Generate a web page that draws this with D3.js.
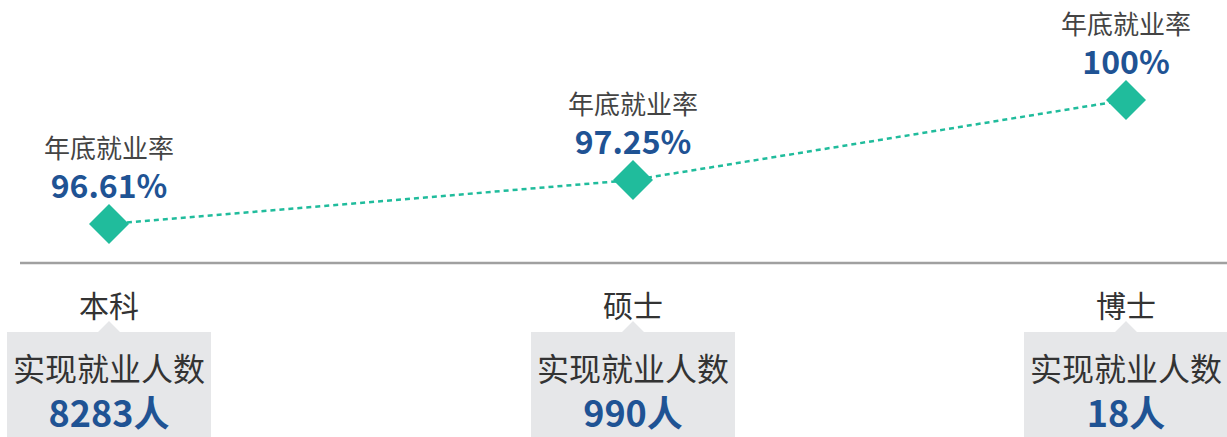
<!DOCTYPE html>
<html>
<head>
<meta charset="utf-8">
<script src="https://cdn.jsdelivr.net/npm/d3@7"></script>
<style>
  body { margin: 0; background: #fff; }
  svg { display: block; font-family: "Noto Sans CJK SC", "Noto Sans", sans-serif; }
</style>
</head>
<body>
<svg width="1227" height="437"></svg>
<script>
const categories = ["本科", "硕士", "博士"];
const rates = [96.61, 97.25, 100];
const employed = [8283, 990, 18];
const rateLabel = "年底就业率";
const countLabel = "实现就业人数";

const svg = d3.select("svg");
const width = 1227;
const height = 437;

// the source chart places the three groups at uneven spots
const x = d3.scaleOrdinal()
  .domain(categories)
  .range([109, 633, 1126]);

// and spaces the points unevenly too, so a piecewise scale
const y = d3.scaleLinear()
  .domain(rates)
  .range([224, 180, 100]);

const data = categories.map((c, i) => ({ cat: c, rate: rates[i], count: employed[i] }));

// baseline
svg.append("line")
  .attr("x1", 20).attr("x2", width)
  .attr("y1", 263).attr("y2", 263)
  .attr("stroke", "#a0a0a0")
  .attr("stroke-width", 2.5);

// dashed line
const line = d3.line()
  .x(d => x(d.cat))
  .y(d => y(d.rate));

svg.append("path")
  .datum(data)
  .attr("d", line)
  .attr("fill", "none")
  .attr("stroke", "#20bc9c")
  .attr("stroke-width", 2.5)
  .attr("stroke-dasharray", "5,4");

// diamonds
svg.selectAll(".pt")
  .data(data)
  .enter()
  .append("path")
  .attr("class", "pt")
  .attr("d", d3.symbol().type(d3.symbolSquare).size(800))
  .attr("transform", d => `translate(${x(d.cat)},${y(d.rate)}) rotate(45)`)
  .attr("fill", "#20bc9c");

// rate labels
const labels = svg.selectAll(".lab")
  .data(data)
  .enter()
  .append("g")
  .attr("transform", d => `translate(${x(d.cat)},${y(d.rate)})`);

labels.append("text")
  .attr("y", -78)
  .attr("text-anchor", "middle")
  .attr("dominant-baseline", "central")
  .attr("font-size", 26)
  .attr("fill", "#444")
  .text(rateLabel);

labels.append("text")
  .attr("y", -40)
  .attr("text-anchor", "middle")
  .attr("dominant-baseline", "central")
  .attr("font-size", 32)
  .attr("font-weight", "bold")
  .attr("fill", "#1f5394")
  .text(d => d.rate + "%");

// category blocks
const boxW = 204;
const blocks = svg.selectAll(".blk")
  .data(data)
  .enter()
  .append("g")
  .attr("transform", d => `translate(${x(d.cat)},0)`);

blocks.append("text")
  .attr("y", 304)
  .attr("text-anchor", "middle")
  .attr("dominant-baseline", "central")
  .attr("font-size", 30)
  .attr("fill", "#333")
  .text(d => d.cat);

blocks.append("path")
  .attr("d", `M${-boxW / 2},332 H${-11} L0,321 L11,332 H${boxW / 2} V${height} H${-boxW / 2} Z`)
  .attr("fill", "#e6e7e9");

blocks.append("text")
  .attr("y", 367)
  .attr("text-anchor", "middle")
  .attr("dominant-baseline", "central")
  .attr("font-size", 32)
  .attr("fill", "#333")
  .text(countLabel);

blocks.append("text")
  .attr("y", 411)
  .attr("text-anchor", "middle")
  .attr("dominant-baseline", "central")
  .attr("font-size", 36)
  .attr("font-weight", "bold")
  .attr("fill", "#1f5394")
  .text(d => d.count + "人");
</script>
</body>
</html>
